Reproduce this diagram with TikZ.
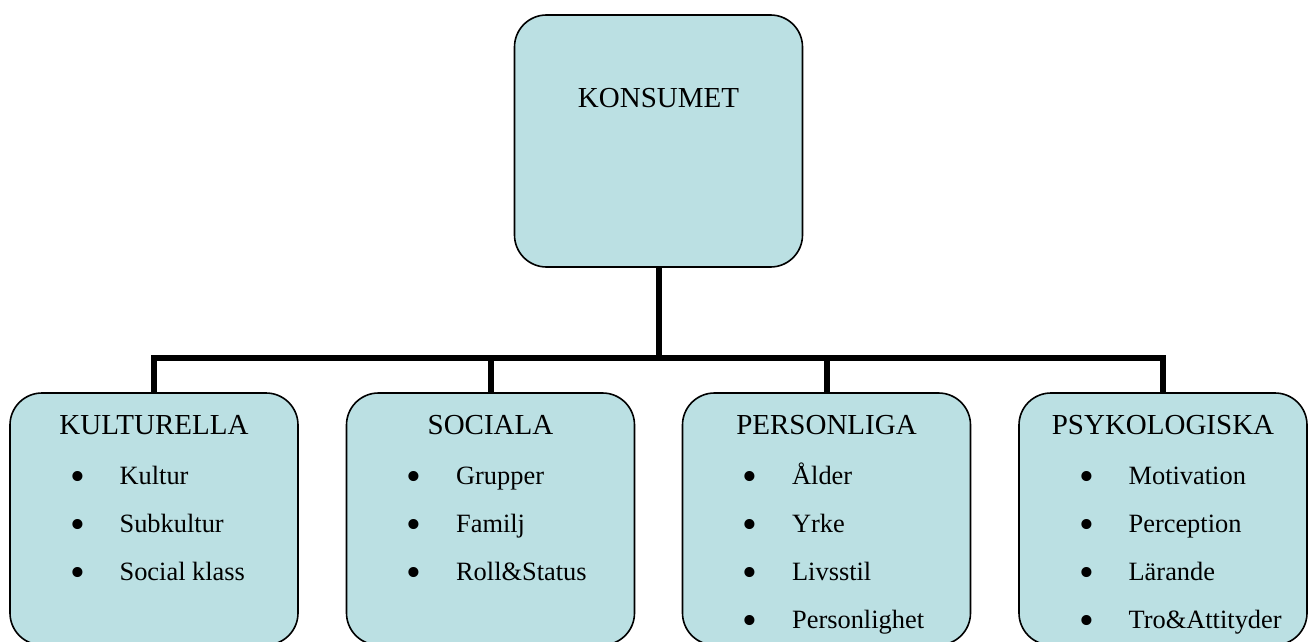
\documentclass[tikz,border=0pt]{standalone}
\usepackage{fontspec}
\setmainfont{Liberation Serif}
\usetikzlibrary{calc}
\definecolor{FactorBlue}{HTML}{BBE0E3}

\tikzset{
  factor/.style={draw, fill=FactorBlue, line width=0.8pt, rounded corners=16pt,
    minimum width=144pt, minimum height=126pt, inner sep=0pt},
  heading/.style={anchor=base, inner sep=0pt, font=\fontsize{14.5}{17}\selectfont},
  item/.style={anchor=base west, inner sep=0pt, font=\fontsize{13.2}{16}\selectfont},
  bus/.style={line width=3pt}
}
\newcommand{\bullitem}[1]{\llap{\raisebox{-3pt}{\scalebox{1.6}{\textbullet}}\hspace{17.3pt}}#1}

\begin{document}
\begin{tikzpicture}[x=0.5pt,y=-0.5pt]
   \useasboundingbox (0,0) rectangle (1312,642);

   % main box
   \node[factor] (konsument) at (658.5,141) {};
   \node[heading] (konsument-title) at ($(konsument.north)+(0,93)$) {KONSUMET};

   % the four groups of factors
   \node[factor] (kult) at (154,519) {};
   \node[factor] (soc)  at (490.5,519) {};
   \node[factor] (pers) at (826.5,519) {};
   \node[factor] (psyk) at (1163,519) {};

   \node[heading] (kult-title) at ($(kult.north)+(0,42)$) {KULTURELLA};
   \node[heading] (soc-title)  at ($(soc.north)+(0,42)$)  {SOCIALA};
   \node[heading] (pers-title) at ($(pers.north)+(0,42)$) {PERSONLIGA};
   \node[heading] (psyk-title) at ($(psyk.north)+(0,42)$) {PSYKOLOGISKA};

   \foreach \t [count=\i] in {Kultur,Subkultur,Social klass}
      \node[item] (kult-\i) at ($(kult.north west)+(110,44+48*\i)$) {\bullitem{\t}};
   \foreach \t [count=\i] in {Grupper,Familj,Roll\&Status}
      \node[item] (soc-\i) at ($(soc.north west)+(110,44+48*\i)$) {\bullitem{\t}};
   \foreach \t [count=\i] in {Ålder,Yrke,Livsstil,Personlighet}
      \node[item] (pers-\i) at ($(pers.north west)+(110,44+48*\i)$) {\bullitem{\t}};
   \foreach \t [count=\i] in {Motivation,Perception,Lärande,Tro\&Attityder}
      \node[item] (psyk-\i) at ($(psyk.north west)+(110,44+48*\i)$) {\bullitem{\t}};

   % connectors
   \coordinate (bus) at (658.5,358);
   \draw[bus] (konsument.south) -- (bus);
   \draw[bus] (kult.north) |- (bus) -| (psyk.north);
   \draw[bus] (soc.north) -- (soc.north |- bus);
   \draw[bus] (pers.north) -- (pers.north |- bus);
\end{tikzpicture}
\end{document}
